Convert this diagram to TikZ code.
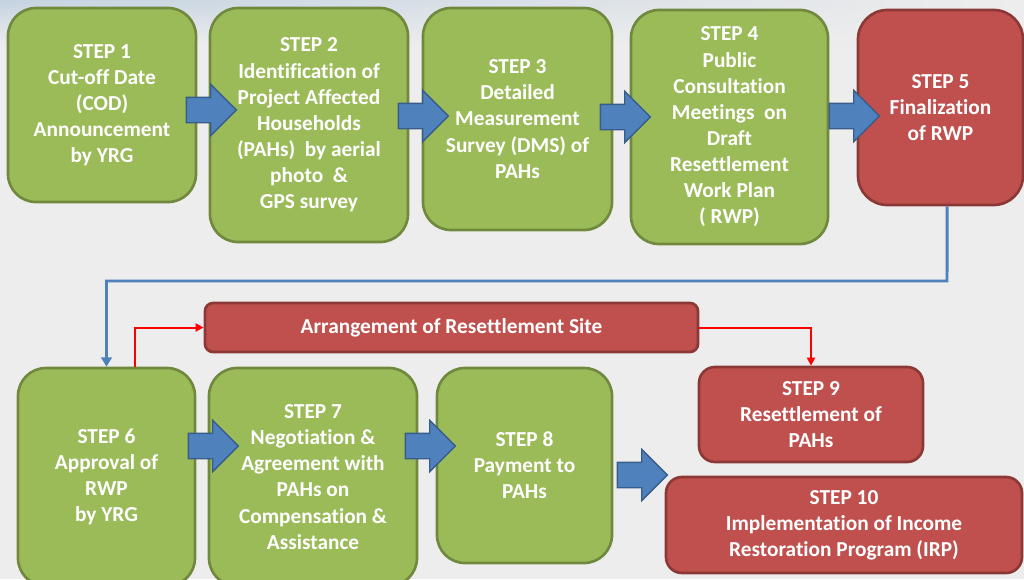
\documentclass[tikz,border=0pt]{standalone}
\usepackage{fontspec}
\setmainfont{Carlito}[Ligatures=NoCommon]
\usepackage{tikz}
\usetikzlibrary{shapes.arrows,arrows.meta,fadings}

\definecolor{stepgreen}{HTML}{9BBB59}
\definecolor{greenedge}{HTML}{71893F}
\definecolor{stepred}{HTML}{C0504D}
\definecolor{rededge}{HTML}{8C3836}
\definecolor{arrowblue}{HTML}{4F81BD}
\definecolor{arrowedge}{HTML}{385D8A}
\definecolor{backgray}{HTML}{EDEDED}
\definecolor{skyblue}{HTML}{C5D3E1}

\tikzset{
  stepbox/.style={draw, line width=2pt, align=center, text=white,
    font=\bfseries\fontsize{16}{19.6}\selectfont, inner sep=2pt},
  greenbox/.style={stepbox, fill=stepgreen, draw=greenedge, rounded corners=21pt},
  redbox/.style={stepbox, fill=stepred, draw=rededge, rounded corners=12pt},
  blockarrow/.style={single arrow, draw=arrowedge, fill=arrowblue, line width=1pt,
    minimum height=37.5pt, inner xsep=0pt, inner ysep=9pt,
    single arrow head extend=9.75pt},
  blueline/.style={draw=arrowblue, line width=2.2pt, -{Triangle[length=7pt,width=8pt]}},
  redline/.style={draw=red, line width=1.5pt, -{Triangle[length=6pt,width=6pt]}}
}

\begin{document}
\begin{tikzpicture}[x=0.75pt, y=-0.75pt]
\useasboundingbox (0,0) rectangle (1024,579);
\clip (0,0) rectangle (1024,579);

% background
\fill[backgray] (0,0) rectangle (1024,579);
\shade[left color=skyblue, right color=backgray, path fading=south] (0,0) rectangle (1024,45);

% upper row
\node [greenbox, minimum width=141pt, minimum height=145.5pt] (s1) at (102,105)
  {STEP 1\\Cut-off Date\\(COD)\\Announcement\\by YRG};
\node [greenbox, minimum width=148.5pt, minimum height=175.5pt] (s2) at (309,125)
  {STEP 2\\Identification of\\Project Affected\\Households\\(PAHs)\ \ by aerial\\photo\ \ \&\\GPS survey};
\node [greenbox, minimum width=141.75pt, minimum height=166.5pt] (s3) at (517.5,119)
  {STEP 3\\Detailed\\Measurement\\Survey (DMS) of\\PAHs};
\node [greenbox, minimum width=147.75pt, minimum height=175.5pt] (s4) at (729.5,127)
  {STEP 4\\Public\\Consultation\\Meetings\ \ on\\Draft\\Resettlement\\Work Plan\\( RWP)};
\node [redbox, rounded corners=22pt, minimum width=123.75pt, minimum height=146.25pt] (s5) at (940.5,107.5)
  {STEP 5\\Finalization\\of RWP};

\node [blockarrow] (a12) at (205,110) {};
\node [blockarrow] (a23) at (417,116) {};
\node [blockarrow] (a34) at (619,117) {};
\node [blockarrow] (a45) at (848,116) {};

% lower row
\node [greenbox, minimum width=132.75pt, minimum height=163.5pt] (s6) at (106.5,477)
  {STEP 6\\Approval of\\RWP\\by YRG};
\node [greenbox, minimum width=156pt, minimum height=163.5pt] (s7) at (313,477)
  {STEP 7\\Negotiation \&\\Agreement with\\PAHs on\\Compensation \&\\Assistance};
\node [greenbox, minimum width=131.25pt, minimum height=146.25pt] (s8) at (524.5,465.5)
  {STEP 8\\Payment to\\PAHs};
\node [redbox, minimum width=168pt, minimum height=71.25pt] (s9) at (811,414.5)
  {STEP 9\\Resettlement of\\PAHs};
\node [redbox, minimum width=267pt, minimum height=72pt] (s10) at (844,525)
  {STEP 10\\Implementation of Income\\Restoration Program (IRP)};
\node [redbox, rounded corners=6pt, minimum width=369.75pt, minimum height=36.75pt] (site) at (451.5,327.5)
  {Arrangement of Resettlement Site};

\node [blockarrow] (a67) at (207,446) {};
\node [blockarrow] (a78) at (424,446) {};
\node [blockarrow] (a8x) at (636,475) {};

% links between the rows
\coordinate (turn) at (947,281);
\path [blueline] ([xshift=5pt]s5.south) -- (turn) -| (s6.north);
\path [redline] ([xshift=21pt]s6.north) |- (site.west);
\path [redline] (site.east) -| (s9.north);
\end{tikzpicture}
\end{document}
